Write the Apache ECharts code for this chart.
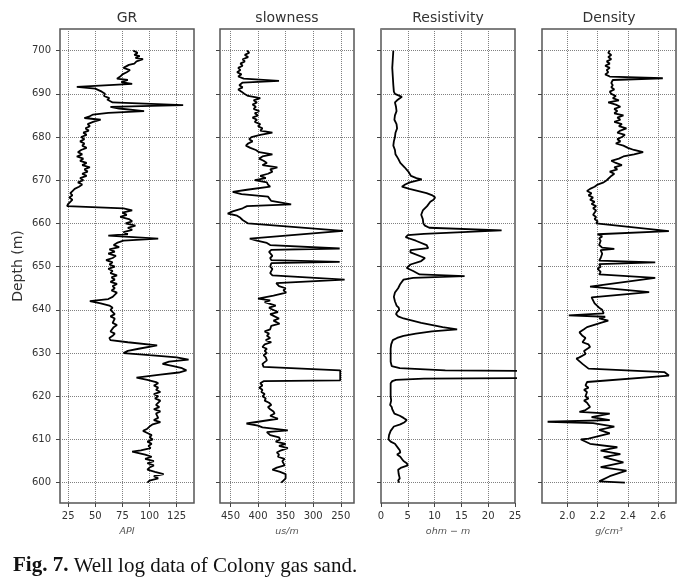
<!DOCTYPE html>
<html>
<head>
<meta charset="utf-8">
<script src="https://cdn.jsdelivr.net/npm/echarts@6/dist/echarts.min.js"></script>
<style>
  html, body { margin: 0; padding: 0; background: #fff; }
  #chart { width: 696px; height: 588px; }
</style>
</head>
<body>
<div id="chart"></div>
<script>
// [depth (m), value]
const depthTicks = [600, 610, 620, 630, 640, 650, 660, 670, 680, 690, 700]
const panelTitles = ['GR', 'slowness', 'Resistivity', 'Density']
const panelUnits = ['API', 'us/m', 'ohm \u2212 m', 'g/cm\u00b3']
const grTicks = [25, 50, 75, 100, 125]
const slowTicks = [250, 300, 350, 400, 450]
const resTicks = [0, 5, 10, 15, 20, 25]
const denTicks = [2.0, 2.2, 2.4, 2.6]

const grLog = [
  [700.0, 85], [699.5, 89], [699.0, 86], [698.7, 91], [698.3, 87], [698.0, 94], [697.5, 88], [697.0, 86],
  [696.7, 81], [696.0, 76], [695.5, 82], [695.0, 79], [694.5, 75], [694.0, 73], [693.5, 70], [693.2, 80],
  [692.7, 74], [692.3, 84], [691.6, 33], [691.2, 50], [690.5, 56], [690.0, 59], [689.5, 58], [689.0, 63],
  [688.7, 61], [688.0, 66], [687.4, 131], [687.0, 64], [686.6, 72], [686.0, 95], [685.6, 62], [685.2, 48],
  [684.7, 44], [684.4, 40], [684.0, 55], [683.5, 48], [683.0, 43], [682.5, 45], [682.0, 41], [681.5, 44],
  [681.0, 39], [680.5, 42], [680.0, 37], [679.5, 40], [679.0, 36], [678.5, 40], [678.0, 38], [677.5, 42],
  [677.0, 37], [676.5, 34], [676.0, 38], [675.5, 33], [675.0, 39], [674.5, 36], [674.0, 42], [673.5, 38],
  [673.0, 45], [672.5, 40], [672.0, 43], [671.5, 38], [671.0, 42], [670.5, 36], [670.0, 39], [669.5, 34],
  [669.0, 38], [668.5, 35], [668.0, 31], [667.5, 29], [667.0, 27], [666.5, 29], [666.0, 26], [665.5, 29],
  [665.0, 27], [664.5, 25], [664.0, 24], [663.5, 76], [663.0, 84], [662.5, 75], [662.0, 79], [661.5, 73],
  [661.0, 81], [660.5, 84], [660.0, 78], [659.5, 87], [659.0, 80], [658.5, 84], [658.0, 76], [657.5, 80],
  [657.2, 62], [656.5, 108], [656.0, 76], [655.5, 70], [655.0, 67], [654.5, 72], [654.0, 63], [653.5, 68],
  [653.0, 62], [652.5, 69], [652.0, 66], [651.5, 60], [651.0, 66], [650.5, 63], [650.0, 68], [649.5, 62],
  [649.0, 66], [648.5, 64], [648.0, 70], [647.5, 65], [647.0, 68], [646.5, 64], [646.0, 70], [645.5, 66],
  [645.0, 68], [644.5, 65], [644.0, 70], [643.0, 66], [642.5, 62], [642.0, 45], [641.5, 55], [641.0, 63],
  [640.5, 66], [640.0, 64], [639.0, 68], [638.5, 64], [638.0, 68], [637.0, 66], [636.5, 70], [636.0, 67],
  [635.0, 64], [634.5, 68], [634.0, 66], [633.5, 63], [633.0, 64], [632.5, 80], [631.8, 107], [631.0, 90],
  [630.5, 80], [630.0, 76], [629.5, 100], [629.0, 125], [628.5, 136], [628.0, 118], [627.5, 112], [627.0, 122],
  [626.5, 130], [626.0, 134], [625.5, 127], [625.0, 110], [624.3, 88], [623.8, 98], [623.3, 106], [623.0, 108],
  [622.5, 104], [622.0, 108], [621.5, 106], [621.0, 110], [620.5, 104], [620.0, 108], [619.5, 105], [619.0, 110],
  [618.0, 106], [617.5, 109], [617.0, 104], [616.5, 110], [616.0, 106], [615.0, 108], [614.5, 104], [614.0, 110],
  [613.5, 103], [613.0, 100], [612.5, 98], [612.0, 94], [611.5, 98], [611.0, 102], [610.5, 100], [610.0, 103],
  [609.5, 98], [609.0, 102], [608.5, 99], [608.0, 101], [607.5, 92], [607.2, 84], [606.5, 96], [606.0, 102],
  [605.5, 96], [605.0, 104], [604.5, 98], [604.0, 104], [603.5, 100], [603.0, 98], [602.5, 105], [602.0, 113],
  [601.5, 104], [601.0, 108], [600.5, 100], [600.0, 98]
]

const slownessLog = [
  [700.0, 420], [699.5, 416], [699.0, 424], [698.5, 418], [698.0, 428], [697.5, 424], [697.0, 432], [696.5, 428],
  [696.0, 436], [695.5, 432], [695.0, 438], [694.5, 430], [694.0, 436], [693.5, 426], [693.0, 362], [692.6, 428],
  [692.0, 434], [691.5, 428], [691.0, 436], [690.5, 430], [690.0, 425], [689.5, 418], [689.0, 396], [688.5, 408],
  [688.0, 402], [687.5, 410], [687.0, 404], [686.5, 408], [686.0, 398], [685.5, 406], [685.0, 400], [684.5, 410],
  [684.0, 402], [683.5, 406], [683.0, 396], [682.5, 400], [682.0, 392], [681.5, 396], [681.0, 374], [680.5, 396],
  [680.0, 412], [679.5, 416], [679.0, 410], [678.5, 418], [678.0, 422], [677.5, 414], [677.0, 404], [676.5, 398],
  [676.0, 374], [675.5, 392], [675.0, 398], [674.5, 390], [674.0, 384], [673.5, 392], [673.0, 365], [672.5, 378],
  [672.0, 374], [671.5, 382], [671.0, 396], [670.5, 386], [670.0, 406], [669.5, 384], [669.0, 382], [668.5, 378],
  [667.8, 420], [667.3, 446], [666.8, 430], [666.2, 382], [665.8, 384], [665.2, 376], [664.4, 340], [664.0, 420],
  [663.5, 428], [662.8, 446], [662.3, 455], [661.8, 438], [661.3, 432], [660.8, 428], [660.0, 418], [658.3, 246],
  [656.5, 415], [656.0, 402], [655.5, 384], [655.0, 378], [654.6, 376], [654.2, 252], [653.9, 376], [653.4, 380],
  [653.0, 382], [652.5, 374], [652.0, 378], [651.5, 376], [651.1, 252], [650.8, 376], [650.0, 378], [649.5, 374],
  [648.5, 378], [648.0, 374], [647.0, 243], [646.2, 367], [645.5, 362], [645.0, 350], [644.5, 354], [644.0, 349],
  [643.3, 372], [642.6, 400], [642.2, 378], [641.8, 388], [641.0, 368], [640.5, 380], [640.2, 376], [639.5, 364],
  [639.0, 378], [638.5, 370], [638.0, 362], [637.5, 372], [636.8, 361], [636.3, 376], [635.5, 378], [635.0, 388],
  [634.5, 380], [634.0, 384], [633.5, 378], [633.0, 386], [632.5, 376], [632.0, 388], [631.4, 392], [631.0, 384],
  [630.5, 388], [630.0, 384], [629.5, 390], [629.0, 386], [628.3, 384], [627.5, 392], [626.8, 390], [626.4, 388],
  [626.0, 251], [623.7, 251], [623.5, 390], [623.0, 396], [622.5, 392], [622.0, 398], [621.5, 392], [621.0, 394],
  [620.5, 388], [620.0, 392], [619.5, 386], [619.0, 388], [618.5, 380], [618.0, 376], [617.5, 382], [617.0, 378],
  [616.5, 372], [616.0, 370], [615.5, 378], [614.8, 364], [613.7, 421], [613.2, 400], [612.8, 392], [612.1, 346],
  [611.7, 384], [611.0, 378], [610.5, 362], [610.0, 360], [609.5, 368], [609.0, 350], [608.5, 362], [608.0, 346],
  [607.5, 358], [607.0, 366], [606.5, 362], [606.0, 364], [605.5, 352], [605.0, 356], [604.0, 352], [603.5, 366],
  [603.0, 374], [602.5, 360], [602.0, 350], [601.0, 350], [600.5, 354], [600.0, 358]
]

const resistivityLog = [
  [700.0, 2.3], [698.0, 2.2], [696.0, 2.1], [694.0, 2.2], [692.0, 2.3], [690.5, 2.4], [690.0, 2.6], [689.3, 3.9],
  [688.5, 3.0], [688.0, 2.6], [687.0, 2.8], [686.0, 2.9], [685.0, 2.6], [684.0, 2.5], [683.0, 2.9], [682.0, 3.0],
  [681.0, 2.7], [680.0, 2.6], [679.0, 2.4], [678.0, 2.3], [677.0, 2.6], [676.0, 2.7], [675.0, 3.2], [674.0, 3.6],
  [673.0, 4.4], [672.0, 5.1], [671.0, 5.6], [670.5, 6.6], [670.2, 7.6], [669.5, 5.4], [669.0, 4.5], [668.5, 3.9],
  [668.0, 5.3], [667.5, 7.0], [667.0, 8.5], [666.5, 9.6], [666.0, 10.1], [665.5, 9.8], [665.0, 9.2], [664.0, 8.6],
  [663.0, 7.8], [662.0, 7.5], [661.0, 7.8], [660.0, 7.9], [659.5, 8.2], [659.0, 9.0], [658.4, 22.5], [657.6, 8.0],
  [657.3, 5.0], [656.8, 4.6], [656.0, 6.5], [655.0, 8.5], [654.3, 8.8], [653.8, 5.5], [653.3, 5.5], [652.0, 8.2],
  [651.3, 7.5], [650.5, 5.5], [649.7, 4.8], [649.0, 6.0], [648.2, 7.2], [647.8, 15.6], [647.4, 6.0], [647.0, 4.2],
  [646.0, 3.6], [645.0, 3.2], [644.0, 2.6], [643.0, 2.4], [642.0, 2.6], [641.0, 2.9], [640.5, 3.3], [640.0, 3.4],
  [639.5, 3.0], [639.0, 2.8], [638.5, 3.2], [638.0, 4.2], [637.0, 7.5], [636.0, 11.5], [635.5, 14.2], [635.0, 9.5],
  [634.5, 6.5], [634.0, 4.2], [633.5, 3.0], [633.0, 2.2], [632.0, 1.9], [631.0, 1.8], [630.0, 1.8], [629.0, 1.8],
  [628.0, 1.8], [627.0, 2.0], [626.5, 3.5], [626.0, 12], [625.7, 40], [624.3, 40], [624.1, 8], [623.8, 2.8],
  [623.5, 2.1], [623.0, 1.8], [622.0, 1.8], [621.0, 1.8], [620.0, 1.8], [619.0, 1.9], [618.0, 1.7], [617.5, 2.0],
  [617.0, 2.1], [616.0, 2.5], [615.5, 3.5], [615.0, 4.2], [614.5, 4.8], [614.0, 4.4], [613.5, 3.6], [613.0, 2.4],
  [612.0, 1.8], [611.0, 1.5], [610.0, 1.4], [609.5, 1.8], [609.0, 2.6], [608.0, 3.2], [607.5, 3.5], [607.0, 3.6],
  [606.5, 3.0], [606.0, 3.6], [605.5, 3.9], [605.0, 4.2], [604.5, 4.8], [604.0, 5.0], [603.5, 3.8], [603.0, 3.2],
  [602.0, 3.3], [601.0, 3.5], [600.5, 3.2], [600.0, 3.4]
]

const densityLog = [
  [700.0, 2.28], [699.5, 2.27], [699.0, 2.29], [698.5, 2.27], [698.0, 2.29], [697.5, 2.26], [697.0, 2.28], [696.5, 2.25],
  [696.0, 2.28], [695.5, 2.26], [695.0, 2.27], [694.5, 2.25], [694.0, 2.28], [693.6, 2.63], [693.2, 2.30], [692.5, 2.29],
  [692.0, 2.30], [691.5, 2.29], [691.0, 2.31], [690.5, 2.28], [690.0, 2.29], [689.5, 2.32], [689.0, 2.30], [688.5, 2.34],
  [688.0, 2.27], [687.5, 2.32], [687.0, 2.35], [686.5, 2.31], [686.0, 2.33], [685.5, 2.31], [685.0, 2.37], [684.5, 2.33],
  [684.0, 2.35], [683.5, 2.31], [683.0, 2.36], [682.5, 2.34], [682.0, 2.39], [681.5, 2.35], [681.0, 2.33], [680.5, 2.38],
  [680.0, 2.36], [679.5, 2.33], [679.0, 2.35], [678.5, 2.32], [678.0, 2.37], [677.5, 2.40], [677.0, 2.44], [676.5, 2.50],
  [676.0, 2.44], [675.5, 2.37], [675.0, 2.34], [674.5, 2.29], [674.0, 2.32], [673.5, 2.36], [673.0, 2.31], [672.5, 2.33],
  [672.0, 2.28], [671.5, 2.31], [671.0, 2.29], [670.0, 2.26], [669.5, 2.24], [669.0, 2.20], [668.5, 2.18], [668.0, 2.15],
  [667.5, 2.13], [667.0, 2.16], [666.5, 2.14], [666.0, 2.17], [665.5, 2.15], [665.0, 2.18], [664.5, 2.16], [664.0, 2.19],
  [663.5, 2.17], [663.0, 2.19], [662.0, 2.17], [661.5, 2.19], [661.0, 2.18], [660.5, 2.20], [660.0, 2.19], [658.2, 2.67],
  [657.5, 2.20], [657.0, 2.23], [656.5, 2.21], [656.0, 2.22], [655.0, 2.21], [654.4, 2.23], [654.1, 2.31], [653.8, 2.22],
  [653.0, 2.23], [652.0, 2.22], [651.4, 2.21], [651.0, 2.58], [650.6, 2.21], [650.0, 2.22], [649.5, 2.20], [648.8, 2.22],
  [648.2, 2.21], [647.4, 2.58], [645.4, 2.15], [644.1, 2.54], [642.9, 2.16], [642.5, 2.17], [641.5, 2.18], [640.5, 2.21],
  [640.0, 2.23], [639.2, 2.24], [638.7, 2.01], [638.4, 2.25], [638.0, 2.21], [637.5, 2.27], [637.0, 2.22], [636.0, 2.13],
  [635.5, 2.11], [634.8, 2.08], [634.0, 2.10], [633.5, 2.12], [632.5, 2.10], [632.0, 2.14], [631.4, 2.15], [630.5, 2.11],
  [629.8, 2.12], [629.0, 2.08], [628.7, 2.06], [627.5, 2.10], [626.4, 2.14], [625.6, 2.64], [624.8, 2.67], [624.5, 2.66],
  [623.3, 2.13], [622.5, 2.12], [622.0, 2.14], [621.5, 2.11], [621.0, 2.13], [620.0, 2.12], [619.5, 2.14], [619.0, 2.11],
  [618.5, 2.13], [617.5, 2.15], [616.8, 2.12], [616.4, 2.08], [616.0, 2.28], [615.2, 2.16], [614.5, 2.28], [614.1, 1.87],
  [613.8, 2.17], [613.0, 2.31], [612.2, 2.21], [611.4, 2.28], [610.2, 2.14], [610.0, 2.09], [609.0, 2.15], [608.2, 2.33],
  [607.4, 2.22], [606.6, 2.35], [605.9, 2.24], [604.7, 2.37], [603.6, 2.22], [602.8, 2.39], [601.5, 2.28], [600.3, 2.21],
  [600.0, 2.38]
]

const chart = echarts.init(document.getElementById('chart'))

const FONT = 'DejaVu Sans'
const panelLeft = [60, 220, 381, 542]
const panelWidth = 134
const gridTop = 29
const gridHeight = 474
const xRanges = [
  { min: 17.5, max: 141, ticks: grTicks, inverse: false },
  { min: 226, max: 469, ticks: slowTicks, inverse: true },
  { min: 0, max: 25, ticks: resTicks, inverse: false },
  { min: 1.833, max: 2.717, ticks: denTicks, inverse: false }
]
const logs = [grLog, slownessLog, resistivityLog, densityLog]

const gridLine = {
  show: true,
  lineStyle: { color: '#808080', type: 'dotted', width: 1 }
}

const grids = panelLeft.map(left => ({
  left: left,
  top: gridTop,
  width: panelWidth,
  height: gridHeight,
  show: true,
  borderColor: '#555',
  borderWidth: 1.5,
  backgroundColor: 'transparent'
}))

const xAxes = xRanges.map((r, i) => ({
  type: 'value',
  gridIndex: i,
  position: 'bottom',
  min: r.min,
  max: r.max,
  inverse: r.inverse,
  name: panelUnits[i],
  nameLocation: 'middle',
  nameGap: 24,
  nameTextStyle: { fontFamily: FONT, fontStyle: 'italic', fontSize: 9.5, color: '#555' },
  axisLine: { show: false },
  axisTick: { show: true, length: 4, inside: false, customValues: r.ticks, lineStyle: { color: '#444' } },
  axisLabel: {
    customValues: r.ticks,
    margin: 8,
    fontFamily: FONT,
    fontSize: 10,
    color: '#333',
    formatter: i === 3 ? (v => v.toFixed(1)) : (v => String(v))
  },
  splitLine: gridLine
}))

const yAxes = panelLeft.map((left, i) => ({
  type: 'value',
  gridIndex: i,
  min: 595.3,
  max: 705,
  name: i === 0 ? 'Depth (m)' : '',
  nameLocation: 'middle',
  nameGap: 35,
  nameTextStyle: { fontFamily: FONT, fontSize: 14, color: '#333' },
  axisLine: { show: false },
  axisTick: { show: true, length: 4, customValues: depthTicks, lineStyle: { color: '#444' } },
  axisLabel: {
    show: i === 0,
    customValues: depthTicks,
    margin: 9,
    fontFamily: FONT,
    fontSize: 10,
    color: '#333'
  },
  splitLine: gridLine
}))

const series = logs.map((log, i) => ({
  type: 'line',
  xAxisIndex: i,
  yAxisIndex: i,
  showSymbol: false,
  symbol: 'none',
  clip: true,
  silent: true,
  animation: false,
  lineStyle: { color: '#000', width: 1.8 },
  data: log.map(p => [p[1], p[0]])
}))

const titles = panelTitles.map((t, i) => ({
  type: 'text',
  x: panelLeft[i] + panelWidth / 2,
  y: 18,
  style: {
    text: t,
    fontFamily: FONT,
    fontSize: 14,
    fill: '#333',
    align: 'center',
    verticalAlign: 'middle'
  }
}))

const chartOption = {
  backgroundColor: '#fff',
  animation: false,
  grid: grids,
  xAxis: xAxes,
  yAxis: yAxes,
  series: series,
  graphic: titles.concat([
    {
      type: 'text',
      x: 13,
      y: 566,
      style: {
        text: '{b|Fig. 7.} Well log data of Colony gas sand.',
        fontFamily: 'Liberation Serif',
        fontSize: 21,
        fill: '#111',
        verticalAlign: 'middle',
        rich: {
          b: { fontFamily: 'Liberation Serif', fontSize: 21, fontWeight: 'bold', fill: '#111' }
        }
      }
    }
  ])
}

chart.setOption(chartOption)
</script>
</body>
</html>
